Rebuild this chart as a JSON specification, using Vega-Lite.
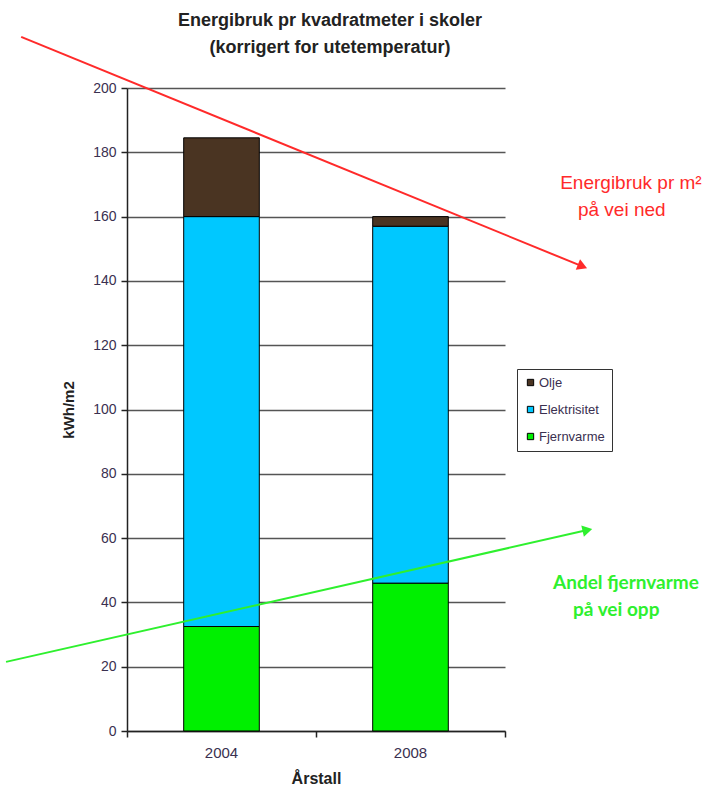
{
  "$schema": "https://vega.github.io/schema/vega-lite/v6.json",
  "autosize": {"type": "none"},
  "padding": {"left": 127, "top": 88, "right": 218, "bottom": 60},
  "width": 378,
  "height": 643,
  "background": "white",
  "config": {
    "view": {"stroke": null},
    "font": "Liberation Sans"
  },
  "title": {
    "text": ["Energibruk pr kvadratmeter i skoler", "(korrigert for utetemperatur)"],
    "font": "Liberation Sans",
    "fontSize": 18,
    "fontWeight": "bold",
    "color": "#222222",
    "lineHeight": 27,
    "dx": 14,
    "offset": -24,
    "frame": "group",
    "anchor": "middle"
  },
  "datasets": {
    "bars": [
      {"year": "2004", "source": "Fjernvarme", "rank": 1, "kwh": 32.5},
      {"year": "2004", "source": "Elektrisitet", "rank": 2, "kwh": 127.5},
      {"year": "2004", "source": "Olje", "rank": 3, "kwh": 24.5},
      {"year": "2008", "source": "Fjernvarme", "rank": 1, "kwh": 46},
      {"year": "2008", "source": "Elektrisitet", "rank": 2, "kwh": 111},
      {"year": "2008", "source": "Olje", "rank": 3, "kwh": 3}
    ],
    "red": [
      {"ax": -0.28, "ay": 215.9},
      {"ax": 1.205, "ay": 144.5}
    ],
    "redHead": [{"ax": 1.205, "ay": 144.5}],
    "green": [
      {"ax": -0.32, "ay": 21.5},
      {"ax": 1.218, "ay": 62.5}
    ],
    "greenHead": [{"ax": 1.218, "ay": 62.5}],
    "redText": [
      {"label": "Energibruk pr m²", "tx": 1.146, "ty": 170.5},
      {"label": "på vei ned", "tx": 1.193, "ty": 162.1}
    ],
    "greenText": [
      {"label": "Andel fjernvarme", "tx": 1.127, "ty": 46.0},
      {"label": "på vei opp", "tx": 1.18, "ty": 37.6}
    ]
  },
  "resolve": {"scale": {"x": "independent"}},
  "layer": [
    {
      "data": {"name": "bars"},
      "mark": {"type": "bar", "stroke": "black", "strokeWidth": 1},
      "encoding": {
        "x": {
          "field": "year", "type": "nominal",
          "scale": {"paddingInner": 0.6, "paddingOuter": 0.3},
          "axis": {
            "title": "Årstall", "titleFontWeight": "bold", "titleFontSize": 16, "titleColor": "#222",
            "titlePadding": 10,
            "labelAngle": 0, "labelFontSize": 15, "labelColor": "#3a3050", "labelPadding": 14,
            "ticks": false,
            "domainColor": "#222", "domainWidth": 1.5, "grid": false
          }
        },
        "y": {
          "field": "kwh", "type": "quantitative", "aggregate": "sum",
          "stack": "zero",
          "scale": {"domain": [0, 200], "nice": false},
          "title": "kWh/m2",
          "axis": {
            "values": [0, 20, 40, 60, 80, 100, 120, 140, 160, 180, 200],
            "titleFontWeight": "bold", "titleFontSize": 15, "titleColor": "#222", "titlePadding": 16,
            "labelFontSize": 14, "labelColor": "#3a3050", "labelPadding": 5,
            "tickSize": 6, "tickColor": "#222", "tickWidth": 1.5,
            "domainColor": "#222", "domainWidth": 1.5,
            "grid": true, "gridColor": "#555555", "gridWidth": 1.5
          }
        },
        "color": {
          "field": "source", "type": "nominal",
          "scale": {"domain": ["Fjernvarme", "Elektrisitet", "Olje"], "range": ["#00f000", "#00c8ff", "#4a3422"]},
          "legend": {
            "title": null,
            "values": ["Olje", "Elektrisitet", "Fjernvarme"],
            "orient": "none", "legendX": 390, "legendY": 281,
            "strokeColor": "#333", "padding": 7,
            "symbolType": "square", "symbolSize": 40, "symbolStrokeColor": "black", "symbolStrokeWidth": 1,
            "labelFontSize": 13, "labelColor": "#3a3050", "labelOffset": 2,
            "rowPadding": 13
          }
        },
        "order": {"field": "rank", "type": "quantitative", "sort": "ascending"}
      }
    },
    {
      "data": {"name": "red"},
      "mark": {"type": "line", "color": "#ff2a2a", "strokeWidth": 2, "clip": false},
      "encoding": {
        "x": {
          "field": "ax", "type": "quantitative",
          "scale": {"domain": [0, 1], "nice": false, "zero": false},
          "axis": {"orient": "bottom", "values": [0, 0.5, 1], "labels": false, "domain": false, "grid": false, "title": null, "tickSize": 6, "tickColor": "#222", "tickWidth": 1.5}
        },
        "y": {"field": "ay", "type": "quantitative", "scale": {"domain": [0, 200], "nice": false}, "title": "kWh/m2"}
      }
    },
    {
      "data": {"name": "redHead"},
      "mark": {"type": "point", "shape": "triangle-right", "filled": true, "opacity": 1, "color": "#ff2a2a", "size": 130, "angle": 22, "clip": false},
      "encoding": {
        "x": {"field": "ax", "type": "quantitative", "scale": {"domain": [0, 1], "nice": false, "zero": false}, "axis": null},
        "y": {"field": "ay", "type": "quantitative", "title": "kWh/m2"}
      }
    },
    {
      "data": {"name": "green"},
      "mark": {"type": "line", "color": "#2ef02e", "strokeWidth": 2, "clip": false},
      "encoding": {
        "x": {"field": "ax", "type": "quantitative", "scale": {"domain": [0, 1], "nice": false, "zero": false}, "axis": null},
        "y": {"field": "ay", "type": "quantitative", "title": "kWh/m2"}
      }
    },
    {
      "data": {"name": "greenHead"},
      "mark": {"type": "point", "shape": "triangle-right", "filled": true, "opacity": 1, "color": "#2ef02e", "size": 130, "angle": 347, "clip": false},
      "encoding": {
        "x": {"field": "ax", "type": "quantitative", "scale": {"domain": [0, 1], "nice": false, "zero": false}, "axis": null},
        "y": {"field": "ay", "type": "quantitative", "title": "kWh/m2"}
      }
    },
    {
      "data": {"name": "redText"},
      "mark": {"type": "text", "align": "left", "baseline": "middle", "color": "#ff2a2a", "fontSize": 19, "font": "Liberation Sans"},
      "encoding": {
        "x": {"field": "tx", "type": "quantitative", "scale": {"domain": [0, 1], "nice": false, "zero": false}, "axis": null},
        "y": {"field": "ty", "type": "quantitative", "title": "kWh/m2"},
        "text": {"field": "label"}
      }
    },
    {
      "data": {"name": "greenText"},
      "mark": {"type": "text", "align": "left", "baseline": "middle", "color": "#2ef02e", "fontSize": 19, "fontWeight": "bold", "font": "Lato"},
      "encoding": {
        "x": {"field": "tx", "type": "quantitative", "scale": {"domain": [0, 1], "nice": false, "zero": false}, "axis": null},
        "y": {"field": "ty", "type": "quantitative", "title": "kWh/m2"},
        "text": {"field": "label"}
      }
    }
  ]
}
